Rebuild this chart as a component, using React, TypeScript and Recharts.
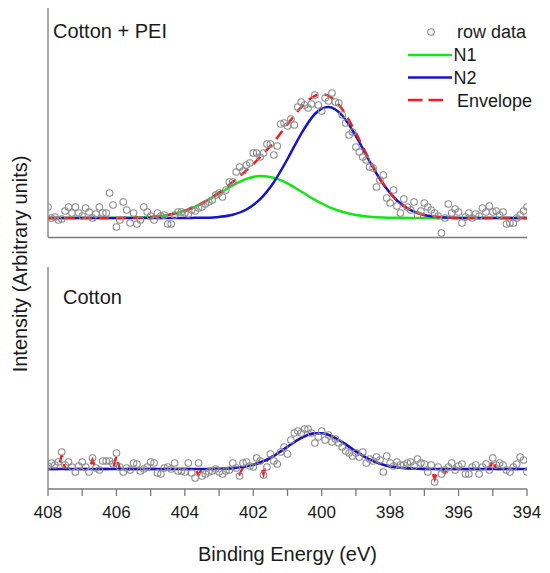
import { ComposedChart, Line, Scatter, XAxis, YAxis } from "recharts"

const FONT = '"Liberation Sans", Arial, sans-serif'
const TEXT = "#1a1a1a"
const AXIS = "#7a7a7a"
const DOT = "#8c8c8c"
const GREEN = "#14e614"
const BLUE = "#1414cc"
const RED = "#f01e1e"

// binding energy axis (eV), labels only on even values
const X_TICKS = [408, 407, 406, 405, 404, 403, 402, 401, 400, 399, 398, 397, 396, 395, 394]

// raw spectra, one reading every 0.1 eV starting at 408 eV
const RAW_START = 408
const RAW_STEP = 0.1

const PEI_RAW = [
  0.11, 0.0, 0.01, -0.02, -0.01, 0.07, 0.11, 0.05, 0.11, 0.05,
  0.02, 0.1, 0.06, 0.0, 0.04, 0.11, 0.05, 0.05, 0.25, 0.13,
  -0.09, -0.02, 0.16, 0.08, -0.05, 0.05, -0.06, -0.02, 0.11, 0.06,
  0.02, -0.02, 0.05, 0.02, 0.03, -0.06, -0.06, 0.03, 0.06, 0.06,
  0.05, 0.04, 0.08, 0.07, 0.1, 0.11, 0.14, 0.16, 0.18, 0.23,
  0.25, 0.21, 0.28, 0.36, 0.36, 0.46, 0.51, 0.47, 0.53, 0.55,
  0.65, 0.65, 0.61, 0.65, 0.74, 0.74, 0.63, 0.72, 0.94, 0.95,
  0.92, 0.99, 0.93, 1.11, 1.16, 1.13, 1.1, 1.14, 1.23, 1.13,
  1.07, 1.2, 1.17, 1.25, 1.16, 1.15, 1.03, 0.95, 0.83, 0.86,
  0.71, 0.66, 0.61, 0.58, 0.51, 0.5, 0.31, 0.38, 0.43, 0.2,
  0.15, 0.28, 0.12, 0.05, 0.19, 0.11, 0.08, 0.16, 0.03, 0.07,
  0.15, 0.11, 0.08, 0.05, 0.02, -0.15, 0.0, 0.14, 0.05, 0.09,
  0.06, -0.05, 0.01, 0.05, 0.0, 0.04, 0.02, 0.1, 0.06, 0.12,
  0.06, 0.07, 0.03, 0.06, -0.06, -0.05, -0.05, 0.0, 0.03, 0.07,
  0.11,
]

const COTTON_RAW = [
  0.03, 0.06, 0.04, 0.07, 0.17, 0.04, 0.07, 0.02, -0.03, 0.03,
  0.07, 0.02, -0.03, 0.11, 0.01, -0.01, 0.08, 0.08, 0.08, 0.05,
  0.16, 0.02, -0.03, 0.01, -0.01, 0.06, 0.05, -0.02, 0.0, 0.02,
  0.07, 0.06, -0.04, -0.05, 0.01, 0.02, 0.0, 0.06, -0.02, -0.02,
  -0.03, 0.06, -0.04, -0.09, 0.06, -0.07, -0.05, -0.03, -0.02, 0.0,
  -0.03, -0.05, -0.02, -0.01, 0.06, 0.01, -0.07, 0.06, 0.07, 0.03,
  0.02, 0.11, 0.08, -0.06, 0.02, 0.15, 0.08, 0.05, 0.17, 0.22,
  0.15, 0.29, 0.36, 0.38, 0.36, 0.4, 0.4, 0.36, 0.26, 0.32,
  0.38, 0.29, 0.34, 0.27, 0.3, 0.26, 0.22, 0.18, 0.16, 0.13,
  0.16, 0.12, 0.17, 0.06, 0.1, 0.08, 0.12, 0.09, -0.03, 0.13,
  0.06, 0.03, 0.07, 0.04, 0.04, 0.06, 0.07, 0.03, 0.1, 0.06,
  0.05, -0.03, 0.04, -0.13, 0.02, -0.05, -0.01, 0.02, 0.06, -0.01,
  0.03, 0.05, -0.05, -0.05, 0.02, 0.04, -0.05, 0.02, 0.05, -0.01,
  0.11, 0.04, 0.06, 0.04, -0.01, -0.03, 0.02, 0.05, 0.12, 0.09,
  -0.03,
]

// fitted components
const FIT_ENERGY = [
  408, 407, 406, 405.5, 405, 404.6, 404.2, 403.8, 403.4, 403.0,
  402.6, 402.2, 401.8, 401.4, 401.0, 400.6, 400.2, 400.0, 399.8, 399.4,
  399.0, 398.6, 398.2, 397.8, 397.4, 397.0, 396.5, 396, 395, 394,
]
const PEI_N1 = [
  0, 0, 0.001, 0.003, 0.011, 0.025, 0.052, 0.098, 0.163, 0.244,
  0.327, 0.391, 0.42, 0.402, 0.346, 0.265, 0.182, 0.145, 0.112, 0.062,
  0.03, 0.013, 0.005, 0.002, 0, 0, 0, 0, 0, 0,
]
const PEI_N2 = [
  0, 0, 0, 0, 0, 0, 0, 0.001, 0.003, 0.011,
  0.033, 0.085, 0.188, 0.358, 0.59, 0.842, 1.04, 1.094, 1.11, 1.025,
  0.818, 0.565, 0.338, 0.175, 0.078, 0.03, 0.007, 0.001, 0, 0,
]
const PEI_ENVELOPE = [
  0, 0, 0.001, 0.003, 0.011, 0.025, 0.052, 0.099, 0.166, 0.255,
  0.36, 0.476, 0.608, 0.76, 0.936, 1.107, 1.222, 1.239, 1.222, 1.087,
  0.848, 0.578, 0.343, 0.177, 0.078, 0.03, 0.007, 0.001, 0, 0,
]
const COTTON_FIT = [
  0, 0, 0, 0, 0, 0, 0, 0, 0, 0.002,
  0.009, 0.026, 0.065, 0.132, 0.223, 0.31, 0.358, 0.358, 0.341, 0.269,
  0.176, 0.095, 0.042, 0.016, 0.005, 0.001, 0, 0, 0, 0,
]

// cotton envelope has a few glitches where it touches the raw points
const COTTON_ENV_ENERGY = [
  408, 407.7, 407.6, 407.5, 406.8, 406.7, 406.6, 406.1, 406.0, 405.9,
  403.7, 403.6, 403.5, 402.5, 402.4, 402.3, 401.8, 401.7, 401.6, 401.4,
  401.2, 401.0, 400.8, 400.6, 400.4, 400.2, 400.0, 399.8, 399.6, 399.4,
  399.2, 399.0, 398.8, 398.6, 398.4, 398.2, 398.0, 397.8, 397.4, 397.0,
  396.8, 396.7, 396.6, 396.5, 396.4, 396.3, 395.1, 395.0, 394.9, 394,
]
const COTTON_ENVELOPE = [
  0, 0, 0.14, 0, 0, 0.09, 0, 0, 0.13, 0,
  0, -0.06, 0, 0.005, -0.05, 0.015, 0.065, -0.05, 0.09, 0.132,
  0.175, 0.223, 0.27, 0.31, 0.34, 0.358, 0.358, 0.341, 0.31, 0.269,
  0.222, 0.176, 0.134, 0.095, 0.066, 0.042, 0.026, 0.016, 0.005, 0.001,
  0, -0.1, 0, 0, -0.04, 0, 0, 0.09, 0, 0,
]

const toRaw = (vals: number[]) =>
  vals.map((v, i) => ({ e: +(RAW_START - i * RAW_STEP).toFixed(1), v }))
const toCurve = (es: number[], vals: number[]) => es.map((e, i) => ({ e, v: vals[i] }))

const peiRaw = toRaw(PEI_RAW)
const cottonRaw = toRaw(COTTON_RAW)
const peiN1 = toCurve(FIT_ENERGY, PEI_N1)
const peiN2 = toCurve(FIT_ENERGY, PEI_N2)
const peiEnv = toCurve(FIT_ENERGY, PEI_ENVELOPE)
const cottonFit = toCurve(FIT_ENERGY, COTTON_FIT)
const cottonEnv = toCurve(COTTON_ENV_ENERGY, COTTON_ENVELOPE)

const OpenCircle = (props: any) => (
  <circle cx={props.cx} cy={props.cy} r={3.3} fill="none" stroke={DOT} strokeWidth={1.1} />
)

export default function App() {
  return (
    <div
      style={{
        position: "absolute",
        left: 0,
        top: 0,
        width: 550,
        height: 573,
        background: "#fff",
        fontFamily: FONT,
      }}
    >
      <div style={{ position: "absolute", left: 0, top: 0 }}>
        <ComposedChart width={550} height={250} margin={{ top: 8, right: 23, bottom: 11.5, left: 47 }}>
          <XAxis
            type="number"
            dataKey="e"
            domain={[394, 408]}
            reversed
            allowDataOverflow
            ticks={X_TICKS}
            tick={false}
            tickLine={false}
            height={1}
            axisLine={{ stroke: AXIS, strokeWidth: 1.3 }}
          />
          <YAxis
            type="number"
            domain={[-0.195, 2.1]}
            allowDataOverflow
            tick={false}
            tickLine={false}
            width={1}
            axisLine={{ stroke: AXIS, strokeWidth: 1.3 }}
          />
          <Scatter data={peiRaw} dataKey="v" shape={OpenCircle} isAnimationActive={false} />
          <Line data={peiN1} dataKey="v" type="monotone" stroke={GREEN} strokeWidth={2.5} dot={false} activeDot={false} isAnimationActive={false} />
          <Line data={peiN2} dataKey="v" type="monotone" stroke={BLUE} strokeWidth={2.5} dot={false} activeDot={false} isAnimationActive={false} />
          <Line data={peiEnv} dataKey="v" type="monotone" stroke={RED} strokeWidth={2.5} strokeDasharray="10 7" dot={false} activeDot={false} isAnimationActive={false} />
        </ComposedChart>
      </div>

      <div style={{ position: "absolute", left: 0, top: 250 }}>
        <ComposedChart width={550} height={323} margin={{ top: 17, right: 23, bottom: 9, left: 47 }}>
          <XAxis
            type="number"
            dataKey="e"
            domain={[394, 408]}
            reversed
            allowDataOverflow
            ticks={X_TICKS}
            interval={0}
            tickFormatter={(v: number) => (v % 2 === 0 ? String(v) : "")}
            tick={{ fill: TEXT, fontSize: 17, fontFamily: FONT }}
            tickSize={7}
            tickMargin={10}
            tickLine={{ stroke: AXIS, strokeWidth: 1.3 }}
            height={75}
            axisLine={{ stroke: AXIS, strokeWidth: 1.3 }}
            label={{
              value: "Binding Energy (eV)",
              position: "insideBottom",
              offset: 3.5,
              fill: TEXT,
              fontSize: 20,
              fontFamily: FONT,
            }}
          />
          <YAxis
            type="number"
            domain={[-0.2, 2.02]}
            allowDataOverflow
            tick={false}
            tickLine={false}
            width={1}
            axisLine={{ stroke: AXIS, strokeWidth: 1.3 }}
          />
          <Scatter data={cottonRaw} dataKey="v" shape={OpenCircle} isAnimationActive={false} />
          <Line data={cottonEnv} dataKey="v" type="linear" stroke={RED} strokeWidth={2.5} strokeDasharray="10 7" dot={false} activeDot={false} isAnimationActive={false} />
          <Line data={cottonFit} dataKey="v" type="monotone" stroke={BLUE} strokeWidth={2.5} dot={false} activeDot={false} isAnimationActive={false} />
        </ComposedChart>
      </div>

      <svg
        width={550}
        height={573}
        style={{ position: "absolute", left: 0, top: 0, pointerEvents: "none" }}
        fontFamily={FONT}
        fill={TEXT}
      >
        <text x={53} y={37.5} fontSize={20}>Cotton + PEI</text>
        <text x={63} y={304} fontSize={20}>Cotton</text>
        <text transform="translate(26.5,264) rotate(-90)" textAnchor="middle" fontSize={20}>
          Intensity (Arbitrary units)
        </text>

        {/* legend */}
        <circle cx={431} cy={32} r={3.3} fill="none" stroke={DOT} strokeWidth={1.1} />
        <text x={457} y={37.5} fontSize={18}>row data</text>
        <line x1={408} x2={452} y1={55} y2={55} stroke={GREEN} strokeWidth={2.5} />
        <text x={453.5} y={61} fontSize={18}>N1</text>
        <line x1={408} x2={452} y1={77.5} y2={77.5} stroke={BLUE} strokeWidth={2.5} />
        <text x={453.5} y={83.5} fontSize={18}>N2</text>
        <line x1={408} x2={443} y1={100} y2={100} stroke={RED} strokeWidth={2.5} strokeDasharray="14.5 6" />
        <text x={457} y={107} fontSize={18}>Envelope</text>
      </svg>
    </div>
  )
}
